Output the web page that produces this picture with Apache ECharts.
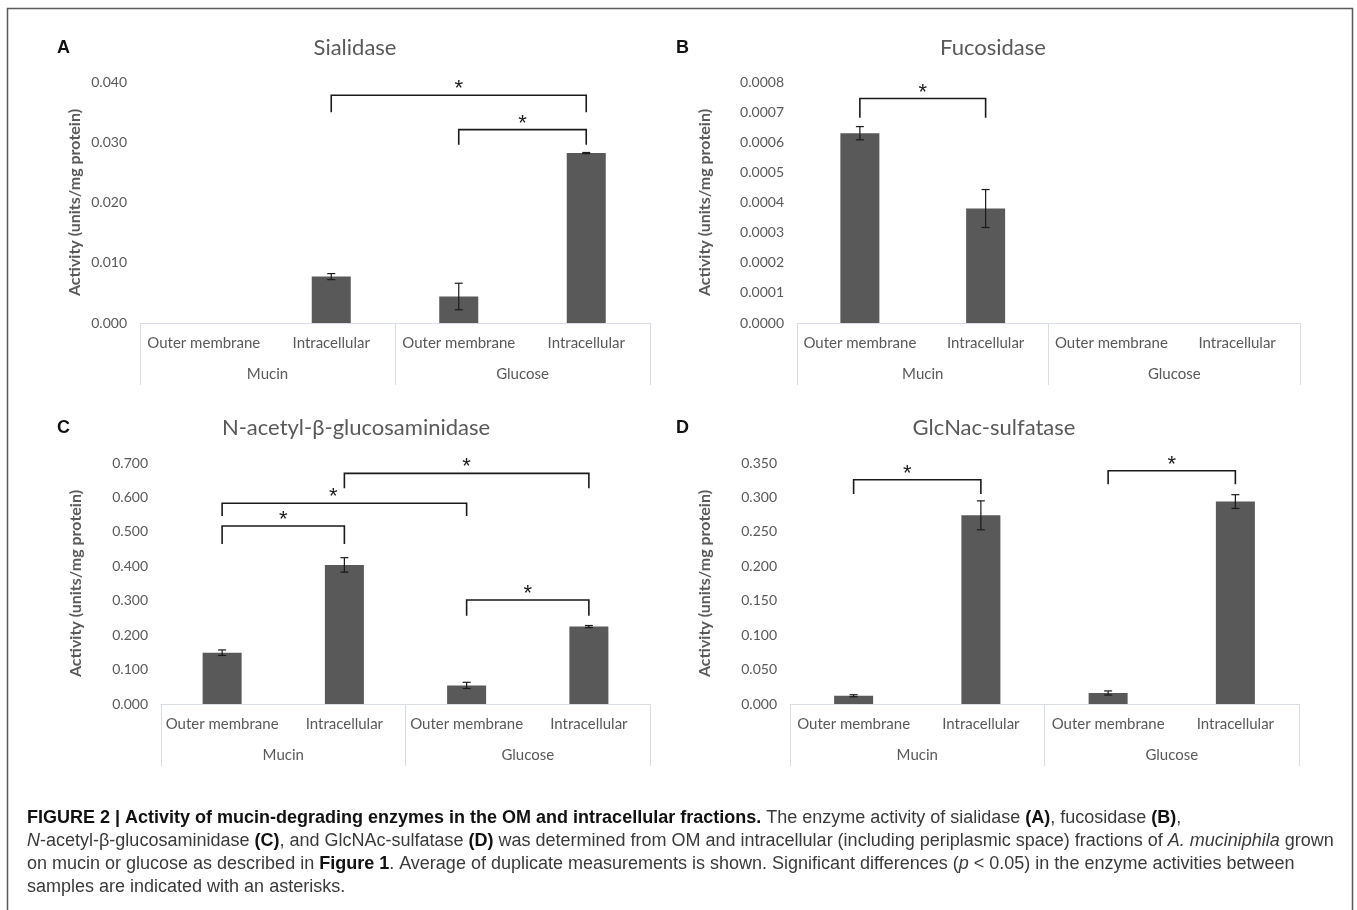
<!DOCTYPE html>
<html>
<head>
<meta charset="utf-8">
<script src="https://cdn.jsdelivr.net/npm/echarts@6.0.0/dist/echarts.min.js"></script>
<style>
  html, body { margin: 0; padding: 0; background: #fff; }
  #chart { width: 1357px; height: 910px; }
</style>
</head>
<body>
<div id="chart"></div>
<script>
// categories shared by all four panels
const categories = ['Outer membrane', 'Intracellular', 'Outer membrane', 'Intracellular'];
const groups = ['Mucin', 'Glucose'];

// values (units/mg protein)
const sialidase = [0, 0.0077, 0.0044, 0.0282];
const sialidaseErr = [0, 0.0005, 0.0022, 0.0001];
const fucosidase = [0.00063, 0.00038, 0, 0];
const fucosidaseErr = [0.000022, 0.000063, 0, 0];
const glucosaminidase = [0.149, 0.404, 0.054, 0.225];
const glucosaminidaseErr = [0.008, 0.021, 0.009, 0.003];
const sulfatase = [0.012, 0.274, 0.016, 0.294];
const sulfataseErr = [0.0015, 0.021, 0.003, 0.010];

// significance brackets: [from bar, to bar, bracket level, left leg end, right leg end]
const sialidaseBrackets = [[1, 3, 0.0378, 0.0350, 0.0350], [2, 3, 0.0321, 0.0296, 0.0296]];
const fucosidaseBrackets = [[0, 1, 0.000745, 0.000681, 0.000681]];
const glucosaminidaseBrackets = [
    [0, 1, 0.517, 0.465, 0.465],
    [0, 2, 0.583, 0.546, 0.546],
    [1, 3, 0.670, 0.627, 0.627],
    [2, 3, 0.302, 0.256, 0.256]
];
const sulfataseBrackets = [[0, 1, 0.3256, 0.305, 0.305], [2, 3, 0.3387, 0.319, 0.319]];

const chartFont = 'Lato';
const grey = '#595959';
const lightLine = '#d9dde4';

const panels = [
    { letter: 'A', title: 'Sialidase', values: sialidase, errors: sialidaseErr, brackets: sialidaseBrackets,
      max: 0.04, interval: 0.01, digits: 3, starShift: {},
      grid: { left: 140, top: 82, width: 510, height: 241 }, nameGap: 57, titleX: 355, titleY: 48, letterX: 57, letterY: 48 },
    { letter: 'B', title: 'Fucosidase', values: fucosidase, errors: fucosidaseErr, brackets: fucosidaseBrackets,
      max: 0.0008, interval: 0.0001, digits: 4, starShift: {},
      grid: { left: 797, top: 82, width: 503, height: 241 }, nameGap: 84, titleX: 993, titleY: 48, letterX: 676, letterY: 48 },
    { letter: 'C', title: 'N-acetyl-β-glucosaminidase', values: glucosaminidase, errors: glucosaminidaseErr, brackets: glucosaminidaseBrackets,
      max: 0.7, interval: 0.1, digits: 3, starShift: { 1: -11 },
      grid: { left: 161, top: 463, width: 489, height: 241 }, nameGap: 77, titleX: 356, titleY: 428, letterX: 57, letterY: 428 },
    { letter: 'D', title: 'GlcNac-sulfatase', values: sulfatase, errors: sulfataseErr, brackets: sulfataseBrackets,
      max: 0.35, interval: 0.05, digits: 3, starShift: { 0: -10 },
      grid: { left: 790, top: 463, width: 509, height: 241 }, nameGap: 77, titleX: 994, titleY: 428, letterX: 676, letterY: 428 }
];

function renderError(params, api) {
    const x = api.value(0), v = api.value(1), e = api.value(2);
    if (!e) return null;
    const top = api.coord([x, v + e]);
    const bot = api.coord([x, v - e]);
    const cap = 4;
    const st = { stroke: '#1a1a1a', lineWidth: 1.2 };
    return {
        type: 'group',
        children: [
            { type: 'line', shape: { x1: top[0], y1: top[1], x2: bot[0], y2: bot[1] }, style: st },
            { type: 'line', shape: { x1: top[0] - cap, y1: top[1], x2: top[0] + cap, y2: top[1] }, style: st },
            { type: 'line', shape: { x1: bot[0] - cap, y1: bot[1], x2: bot[0] + cap, y2: bot[1] }, style: st }
        ]
    };
}

function bracketRenderer(shift) {
    return function (params, api) {
        const a = api.value(0), b = api.value(1);
        const lvl = api.value(2), legA = api.value(3), legB = api.value(4);
        const p0 = api.coord([a, legA]);
        const p1 = api.coord([a, lvl]);
        const p2 = api.coord([b, lvl]);
        const p3 = api.coord([b, legB]);
        const dx = shift[params.dataIndex] || 0;
        return {
            type: 'group',
            children: [
                { type: 'polyline', shape: { points: [p0, p1, p2, p3] },
                  style: { stroke: '#1a1a1a', lineWidth: 1.6, fill: null } },
                { type: 'text', x: (p1[0] + p2[0]) / 2 + dx, y: p1[1] - 6,
                  style: { text: '*', fontFamily: 'Liberation Sans', fontSize: 22, fill: '#1a1a1a',
                           align: 'center', verticalAlign: 'middle' } }
            ]
        };
    };
}

const grids = [], xAxes = [], yAxes = [], series = [], graphics = [];

panels.forEach((p, i) => {
    grids.push(p.grid);
    xAxes.push({
        type: 'category', gridIndex: i, data: categories, position: 'bottom',
        axisLine: { lineStyle: { color: lightLine, width: 1 } },
        axisTick: { show: false },
        axisLabel: { interval: 0, color: grey, fontFamily: chartFont, fontSize: 15, margin: 13 }
    });
    xAxes.push({
        type: 'category', gridIndex: i, data: groups, position: 'bottom', offset: 0,
        axisLine: { show: false },
        axisTick: { show: true, length: 62, lineStyle: { color: lightLine, width: 1 } },
        axisLabel: { interval: 0, color: grey, fontFamily: chartFont, fontSize: 15, margin: 44 }
    });
    yAxes.push({
        type: 'value', gridIndex: i, min: 0, max: p.max, interval: p.interval,
        name: 'Activity (units/mg protein)', nameLocation: 'middle', nameRotate: 90, nameGap: p.nameGap,
        nameTextStyle: { color: grey, fontFamily: chartFont, fontSize: 16, fontWeight: 'bold' },
        axisLine: { show: false }, axisTick: { show: false }, splitLine: { show: false },
        axisLabel: { color: grey, fontFamily: chartFont, fontSize: 14, margin: 13,
                     formatter: v => v.toFixed(p.digits) }
    });
    series.push({
        type: 'bar', xAxisIndex: i * 2, yAxisIndex: i, data: p.values, barWidth: 39,
        itemStyle: { color: grey }, silent: true
    });
    series.push({
        type: 'custom', xAxisIndex: i * 2, yAxisIndex: i, z: 3, silent: true,
        encode: { x: 0, y: [1, 2] },
        data: categories.map((c, k) => [k, p.values[k], p.errors[k]]),
        renderItem: renderError
    });
    series.push({
        type: 'custom', xAxisIndex: i * 2, yAxisIndex: i, z: 4, silent: true,
        encode: { x: [0, 1], y: [2, 3, 4] },
        data: p.brackets,
        renderItem: bracketRenderer(p.starShift)
    });
    graphics.push({
        type: 'text', x: p.letterX, y: p.letterY,
        style: { text: p.letter, fontFamily: 'Liberation Sans', fontWeight: 'bold', fontSize: 18,
                 fill: '#111', align: 'left', verticalAlign: 'middle' }
    });
    graphics.push({
        type: 'text', x: p.titleX, y: p.titleY,
        style: { text: p.title, fontFamily: chartFont, fontSize: 22, fill: grey,
                 align: 'center', verticalAlign: 'middle' }
    });
});

// figure frame
graphics.push({
    type: 'rect', shape: { x: 7.5, y: 8.5, width: 1345, height: 920 },
    style: { fill: null, stroke: '#5a5a5a', lineWidth: 1.5 }, z: 10
});

// caption
const captionLines = [
    '{b|FIGURE 2 | Activity of mucin-degrading enzymes in the OM and intracellular fractions.}{n| The enzyme activity of sialidase }{b|(A)}{n|, fucosidase }{b|(B)}{n|,}',
    '{i|N}{n|-acetyl-β-glucosaminidase }{b|(C)}{n|, and GlcNAc-sulfatase }{b|(D)}{n| was determined from OM and intracellular (including periplasmic space) fractions of }{i|A. muciniphila}{n| grown}',
    '{n|on mucin or glucose as described in }{b|Figure 1}{n|. Average of duplicate measurements is shown. Significant differences (}{i|p}{n| < 0.05) in the enzyme activities between}',
    '{n|samples are indicated with an asterisks.}'
];
const capBase = { fontFamily: 'Liberation Sans', fontSize: 18 };
captionLines.forEach((line, k) => {
    graphics.push({
        type: 'text', x: 27, y: 818 + k * 23,
        style: {
            text: line, align: 'left', verticalAlign: 'middle',
            rich: {
                n: Object.assign({ fill: '#3a3a3a' }, capBase),
                b: Object.assign({ fill: '#111', fontWeight: 'bold' }, capBase),
                i: Object.assign({ fill: '#3a3a3a', fontStyle: 'italic' }, capBase)
            }
        }
    });
});

const chart = echarts.init(document.getElementById('chart'));
chart.setOption({
    animation: false,
    backgroundColor: '#fff',
    grid: grids,
    xAxis: xAxes,
    yAxis: yAxes,
    series: series,
    graphic: graphics
});
window.addEventListener('resize', () => chart.resize());
</script>
</body>
</html>
